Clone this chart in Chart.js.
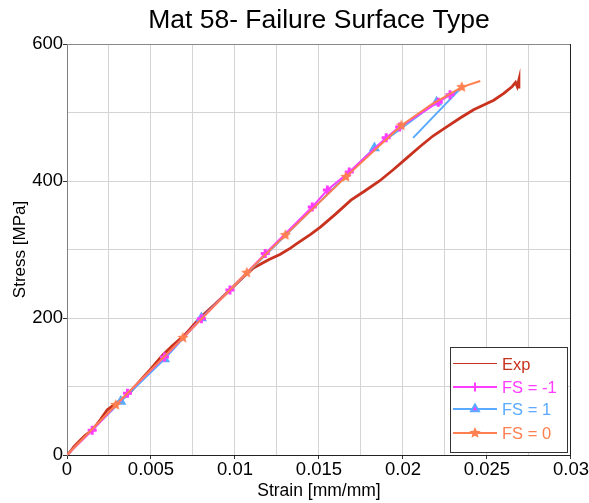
<!DOCTYPE html>
<html>
<head>
<meta charset="utf-8">
<script src="https://cdn.jsdelivr.net/npm/chart.js@4.4.0/dist/chart.umd.min.js"></script>
<style>
  body { margin: 0; background: #fff; }
  #wrap { width: 589px; height: 503px; }
</style>
</head>
<body>
<div id="wrap"><canvas id="grafico"></canvas></div>
<script>
// valores (deformacao, tensao)
const expStrain = [0, 0.0002, 0.0004, 0.0008, 0.0011, 0.0015, 0.002, 0.0024, 0.003, 0.0037, 0.0043, 0.005, 0.0057, 0.0063, 0.007, 0.0079, 0.0088, 0.0097, 0.0105, 0.0111, 0.012, 0.0127, 0.0133, 0.0137, 0.0145, 0.0151, 0.016, 0.0169, 0.0177, 0.0186, 0.0194, 0.0202, 0.021, 0.0218, 0.0226, 0.0234, 0.0242, 0.0248, 0.0254, 0.026, 0.0265, 0.0267, 0.0268, 0.0269, 0.0269]
const expStress = [0, 5, 12, 22, 29, 36, 52, 66, 77, 90, 107, 126, 146, 160, 175, 200, 220, 241, 260, 273, 285, 293, 302, 309, 322, 333, 352, 372, 385, 400, 416, 433, 450, 466, 479, 492, 504, 511, 518, 528, 538, 544, 538, 548, 535]

const fsMenos1Strain = [0, 0.0015, 0.0036, 0.0058, 0.008, 0.0097, 0.0118, 0.0146, 0.0155, 0.0168, 0.019, 0.0198, 0.0221, 0.0228, 0.0231]
const fsMenos1Stress = [0, 36, 90, 143, 199, 241, 294, 362, 387, 413, 463, 479, 515, 526, 530]

const fs1Strain = [0, 0.0032, 0.0058, 0.008, 0.0183, 0.022, 0.0233, 0.0206]
const fs1Stress = [0, 78, 140, 200, 448, 515, 532, 463]

const fs0Strain = [0, 0.0029, 0.0069, 0.0107, 0.013, 0.0166, 0.0199, 0.0217, 0.0235, 0.0246]
const fs0Stress = [0, 73, 171, 266, 321, 406, 481, 512, 537, 546]

const titulo = 'Mat 58- Failure Surface Type'
const corExp = '#c8321e'
const corMenos1 = '#ff3cff'
const corFs1 = '#5aaaff'
const corFs0 = '#ff7f50'
const fonte = "'Liberation Sans', Arial, sans-serif"

function montarPontos(xs, ys) {
    const pontos = []
    for (let i = 0; i < xs.length; i++) {
        pontos.push({ x: xs[i], y: ys[i] })
    }
    return pontos
}

// estrela cheia de 5 pontas para FS = 0
function criarEstrela(cor, r) {
    const tela = document.createElement('canvas')
    const lado = Math.ceil(r * 2 + 2)
    tela.width = lado
    tela.height = lado
    const c = tela.getContext('2d')
    c.fillStyle = cor
    c.beginPath()
    for (let i = 0; i < 10; i++) {
        const raio = i % 2 === 0 ? r : r * 0.45
        const ang = -Math.PI / 2 + i * Math.PI / 5
        const px = lado / 2 + raio * Math.cos(ang)
        const py = lado / 2 + raio * Math.sin(ang)
        if (i === 0) c.moveTo(px, py)
        else c.lineTo(px, py)
    }
    c.closePath()
    c.fill()
    return tela
}
const estrela = criarEstrela(corFs0, 6)

// marcadores escondidos no inicio e no fim das curvas
function raioMarcador(semMarca) {
    return function (ctx) {
        const total = ctx.dataset.data.length
        if (ctx.dataIndex === 0 || ctx.dataIndex === total - 1) return 0
        if (semMarca && semMarca.includes(ctx.dataIndex)) return 0
        return 4.5
    }
}

const legendaCaixa = {
    id: 'legendaCaixa',
    afterDraw(chart) {
        const c = chart.ctx
        const area = chart.chartArea
        c.save()
        // titulo centrado na area do grafico
        c.fillStyle = '#000'
        c.font = '26.5px ' + fonte
        c.textAlign = 'center'
        c.textBaseline = 'middle'
        c.fillText(titulo, (area.left + area.right) / 2, 21)
        c.textAlign = 'left'

        // moldura do grafico
        c.lineWidth = 1
        c.strokeStyle = '#888'
        c.beginPath()
        c.moveTo(area.left, area.top + 0.5)
        c.lineTo(area.right, area.top + 0.5)
        c.stroke()
        c.strokeStyle = '#222'
        c.beginPath()
        c.moveTo(area.right - 0.5, area.top)
        c.lineTo(area.right - 0.5, area.bottom)
        c.stroke()

        // legenda
        const x0 = 450, y0 = 347, w = 117, h = 105
        c.fillStyle = '#fff'
        c.fillRect(x0, y0, w, h)
        c.strokeStyle = '#333'
        c.strokeRect(x0 + 0.5, y0 + 0.5, w, h)
        const linhas = [16.5, 40, 62, 86]
        c.font = '16.5px ' + fonte
        c.textBaseline = 'middle'
        for (let i = 0; i < linhas.length; i++) {
            const ds = chart.data.datasets[i]
            const y = y0 + linhas[i]
            c.strokeStyle = ds.borderColor
            c.lineWidth = ds.legendaLargura || ds.borderWidth
            c.beginPath()
            c.moveTo(x0 + 3, y)
            c.lineTo(x0 + 47, y)
            c.stroke()
            if (ds.legendaEstilo) {
                Chart.helpers.drawPoint(c, {
                    pointStyle: ds.legendaEstilo, radius: 4.5, borderWidth: ds.pointBorderWidth || 1
                }, x0 + 25, y)
            }
            c.fillStyle = ds.borderColor
            c.fillText(ds.label, x0 + 52, Math.round(y) + 1)
        }
        c.restore()
    }
}

const grafico = new Chart(document.getElementById('grafico'), {
    type: 'scatter',
    data: {
        datasets: [{
            label: 'Exp',
            data: montarPontos(expStrain, expStress),
            showLine: true,
            borderColor: corExp,
            backgroundColor: corExp,
            borderWidth: 2.8,
            legendaLargura: 1,
            pointRadius: 0,
            order: 4
        }, {
            label: 'FS = -1',
            data: montarPontos(fsMenos1Strain, fsMenos1Stress),
            showLine: true,
            borderColor: corMenos1,
            backgroundColor: corMenos1,
            borderWidth: 2,
            pointStyle: 'cross',
            pointBorderWidth: 3,
            pointRadius: raioMarcador(),
            legendaEstilo: 'cross',
            order: 2
        }, {
            label: 'FS = 1',
            data: montarPontos(fs1Strain, fs1Stress),
            showLine: true,
            borderColor: corFs1,
            backgroundColor: corFs1,
            borderWidth: 2,
            pointStyle: 'triangle',
            pointRadius: raioMarcador([6]),
            legendaEstilo: 'triangle',
            order: 3
        }, {
            label: 'FS = 0',
            data: montarPontos(fs0Strain, fs0Stress),
            showLine: true,
            borderColor: corFs0,
            backgroundColor: corFs0,
            borderWidth: 2,
            pointStyle: estrela,
            pointRadius: raioMarcador([7]),
            legendaEstilo: estrela,
            order: 1
        }]
    },
    options: {
        responsive: true,
        maintainAspectRatio: false,
        animation: false,
        layout: { padding: { left: 0, right: 18, top: 44, bottom: 0 } },
        plugins: {
            legend: { display: false },
            tooltip: { enabled: false },
            title: { display: false }
        },
        scales: {
            x: {
                type: 'linear',
                min: 0,
                max: 0.03,
                afterFit(scale) { scale.height = 48 },
                border: { color: '#222', width: 1 },
                grid: {
                    color: '#d4d4d4',
                    tickLength: 4,
                    tickColor(ctx) {
                        if (!ctx.tick) return 'rgba(0,0,0,0)'
                        return Math.round(ctx.tick.value / 0.0025) % 2 === 0 ? '#333' : 'rgba(0,0,0,0)'
                    }
                },
                ticks: {
                    stepSize: 0.0025,
                    autoSkip: false,
                    maxRotation: 0,
                    padding: 0,
                    color: '#000',
                    font: { family: fonte, size: 18.5 },
                    callback(valor) {
                        if (Math.round(valor / 0.0025) % 2 !== 0) return ''
                        return String(Number(valor.toFixed(4)))
                    }
                },
                title: {
                    display: true,
                    text: 'Strain [mm/mm]',
                    color: '#000',
                    font: { family: fonte, size: 17.5 },
                    padding: { top: 0, bottom: 1 }
                }
            },
            y: {
                min: 0,
                max: 600,
                afterFit(scale) { scale.width = 67 },
                border: { color: '#808080', width: 1 },
                grid: {
                    color: '#d4d4d4',
                    tickLength: 4,
                    tickColor(ctx) {
                        if (!ctx.tick) return 'rgba(0,0,0,0)'
                        return ctx.tick.value % 200 === 0 ? '#333' : 'rgba(0,0,0,0)'
                    }
                },
                ticks: {
                    stepSize: 100,
                    autoSkip: false,
                    padding: 0,
                    color: '#000',
                    font: { family: fonte, size: 18.5 },
                    callback(valor) {
                        return valor % 200 === 0 ? String(valor) : ''
                    }
                },
                title: {
                    display: true,
                    text: 'Stress [MPa]',
                    color: '#000',
                    font: { family: fonte, size: 17 },
                    padding: { top: 10, bottom: 0 }
                }
            }
        }
    },
    plugins: [legendaCaixa]
})
</script>
</body>
</html>
